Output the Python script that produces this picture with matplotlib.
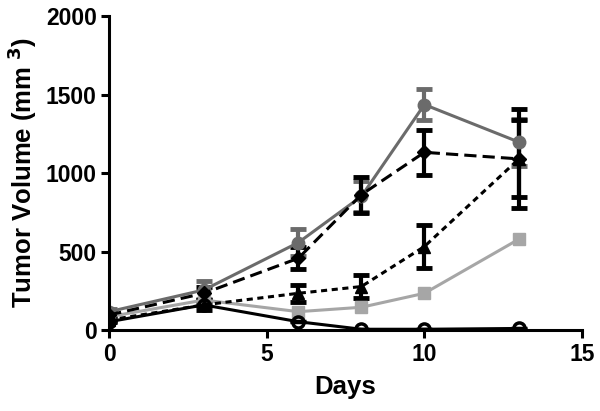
import matplotlib
matplotlib.use("Agg")
import matplotlib.pyplot as plt

plt.rcParams['font.family'] = ['Liberation Sans', 'DejaVu Sans']
plt.rcParams['font.weight'] = 'bold'

days = [0, 3, 6, 8, 10, 13]

# gray filled circles, solid
circ_y = [117, 255, 557, 851, 1436, 1197]
circ_err = [15, 55, 85, 100, 100, 150]
# black diamonds, long dash
diam_y = [96, 234, 457, 862, 1132, 1090]
diam_err = [15, 40, 70, 115, 144, 315]
# black triangles, short dash
tri_y = [64, 160, 234, 277, 532, 1090]
tri_err = [10, 30, 55, 75, 140, 245]
# light gray squares, solid
sq_y = [85, 191, 117, 145, 234, 579]
sq_err = [3, 5, 4, 4, 5, 5]
# black open circles, solid
open_y = [53, 160, 53, 5, 5, 10]
open_err = [4, 8, 4, 2, 2, 2]

fig = plt.figure(figsize=(6, 4.11), dpi=100)
ax = fig.add_axes([0.182, 0.197, 0.788, 0.764])

kw = dict(capsize=6, capthick=3.5, elinewidth=3, linewidth=2.2)
ax.errorbar(days, sq_y, yerr=sq_err, color='#a6a6a6', marker='s', markersize=8.5,
            capsize=0, elinewidth=2, linewidth=2.2)
ax.errorbar(days, circ_y, yerr=circ_err, color='#6b6b6b', marker='o', markersize=9, **kw)
ax.errorbar(days, open_y, yerr=open_err, color='black', marker='o', markersize=8,
            markerfacecolor='none', markeredgewidth=2.5, **kw)
ax.errorbar(days, tri_y, yerr=tri_err, color='black', marker='^', markersize=8,
            linestyle=(0, (2, 1.5)), **kw)
ax.errorbar(days, diam_y, yerr=diam_err, color='black', marker='D', markersize=7,
            linestyle=(0, (4, 2)), **kw)

ax.set_xlim(0, 15)
ax.set_ylim(0, 2000)
ax.set_xticks([0, 5, 10, 15])
ax.set_yticks([0, 500, 1000, 1500, 2000])
for s in ['top', 'right']:
    ax.spines[s].set_visible(False)
for s in ['left', 'bottom']:
    ax.spines[s].set_linewidth(2.2)
ax.tick_params(width=2.2, length=6, labelsize=16.5, pad=3)
for lab in ax.get_xticklabels() + ax.get_yticklabels():
    lab.set_fontweight('bold')
ax.set_xlabel('Days', fontsize=18.5, fontweight='bold', labelpad=7)
ax.set_ylabel('Tumor Volume (mm$^{\\ 3}$)', fontsize=18.5, fontweight='bold', labelpad=5)

fig.savefig('out.png', dpi=100)
